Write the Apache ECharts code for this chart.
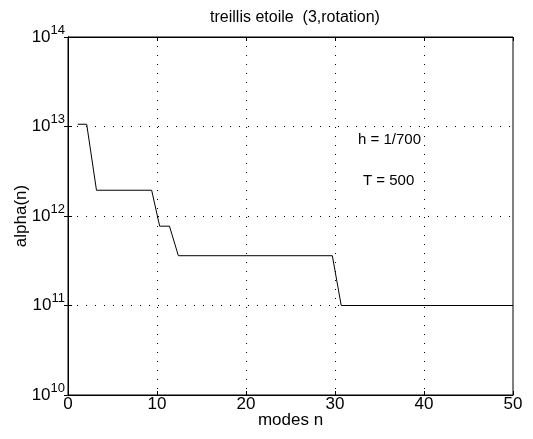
<!DOCTYPE html>
<html>
<head>
<meta charset="utf-8">
<script src="https://cdn.jsdelivr.net/npm/echarts@6/dist/echarts.min.js"></script>
<style>
  html, body { margin: 0; padding: 0; background: #fff; }
  #chart { width: 533px; height: 439px; }
</style>
</head>
<body>
<div id="chart"></div>
<script>
// mode index n and alpha(n)
var modesN = [1.1, 2.1, 3.2, 9.4, 10.3, 11.4, 12.4, 29.7, 30.7, 50];
var alphaN = [1.06e13, 1.06e13, 1.94e12, 1.94e12, 7.7e11, 7.7e11, 3.6e11, 3.6e11, 1e11, 1e11];
var xTicks = [0, 10, 20, 30, 40, 50];
var yTicks = [1e10, 1e11, 1e12, 1e13, 1e14];
var notes = ['h = 1/700', 'T = 500'];

var chart = echarts.init(document.getElementById('chart'));

var pts = [];
for (var i = 0; i < modesN.length; i++) {
    pts.push([modesN[i], alphaN[i]]);
}

var font = 'Liberation Sans, Arial, sans-serif';
var dots = { color: '#000', type: [1, 8] };

var option = {
    backgroundColor: '#fff',
    animation: false,
    title: {
        text: 'treillis etoile  (3,rotation)',
        left: 290,
        top: 5,
        textAlign: 'center',
        textStyle: { fontFamily: font, fontSize: 16, fontWeight: 'normal', color: '#000' }
    },
    grid: {
        left: 68, right: 20, top: 37, bottom: 44,
        outerBoundsMode: 'none',
        containLabel: false,
        show: true, borderColor: '#000', borderWidth: 1
    },
    xAxis: [{
        type: 'value',
        min: xTicks[0], max: xTicks[xTicks.length - 1], interval: 10,
        name: 'modes n',
        nameLocation: 'middle',
        nameGap: 17,
        nameMoveOverlap: false,
        nameTextStyle: { fontFamily: font, fontSize: 17, color: '#000' },
        axisLine: { lineStyle: { color: '#000' } },
        axisTick: { inside: true, length: 4, lineStyle: { color: '#000' } },
        axisLabel: { fontFamily: font, fontSize: 17, color: '#000', margin: 1 },
        splitLine: { show: true, showMinLine: false, showMaxLine: false, lineStyle: dots }
    }, {
        type: 'value', position: 'top',
        min: xTicks[0], max: xTicks[xTicks.length - 1], interval: 10,
        axisLine: { lineStyle: { color: '#000' } },
        axisTick: { inside: true, length: 4, lineStyle: { color: '#000' } },
        axisLabel: { show: false },
        splitLine: { show: false }
    }],
    yAxis: [{
        type: 'log', logBase: 10,
        min: yTicks[0], max: yTicks[yTicks.length - 1],
        name: 'alpha(n)',
        nameLocation: 'middle',
        nameGap: 38,
        nameMoveOverlap: false,
        nameTextStyle: { fontFamily: font, fontSize: 17, color: '#000' },
        axisLine: { lineStyle: { color: '#000' } },
        axisTick: { inside: true, length: 4, lineStyle: { color: '#000' } },
        axisLabel: {
            margin: 3,
            formatter: function (v) {
                return '{b|10}{s|' + Math.round(Math.log10(v)) + '}';
            },
            rich: {
                b: { fontFamily: font, fontSize: 17, color: '#000' },
                s: { fontFamily: font, fontSize: 13, color: '#000', padding: [0, 0, 14, 0] }
            }
        },
        splitLine: { show: true, showMinLine: false, showMaxLine: false, lineStyle: dots }
    }, {
        type: 'log', logBase: 10, position: 'right',
        min: yTicks[0], max: yTicks[yTicks.length - 1],
        axisLine: { lineStyle: { color: '#000' } },
        axisTick: { inside: true, length: 4, lineStyle: { color: '#000' } },
        axisLabel: { show: false },
        splitLine: { show: false }
    }],
    graphic: [{
        type: 'text', left: 358, top: 132,
        style: { text: notes[0], font: '15px ' + font, fill: '#000' }
    }, {
        type: 'text', left: 363, top: 173,
        style: { text: notes[1], font: '15px ' + font, fill: '#000' }
    }],
    series: [{
        type: 'line',
        data: pts,
        showSymbol: false,
        lineStyle: { color: '#000', width: 1 },
        itemStyle: { color: '#000' }
    }]
};

chart.setOption(option);
</script>
</body>
</html>
